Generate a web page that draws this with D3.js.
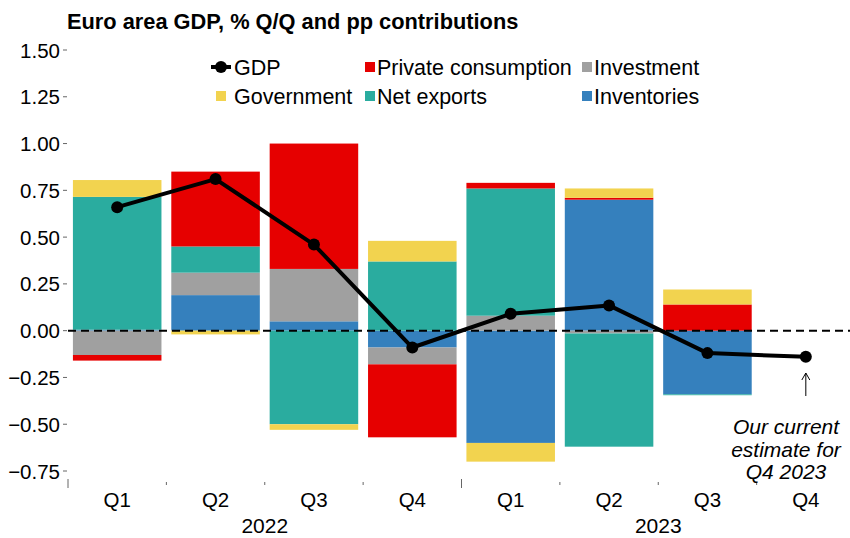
<!DOCTYPE html>
<html>
<head>
<meta charset="utf-8">
<script src="https://cdn.jsdelivr.net/npm/d3@7"></script>
<style>
  body { margin: 0; background: #fff; }
  text { font-family: "Liberation Sans", Arial, sans-serif; fill: #000; }
</style>
</head>
<body>
<div id="chart"></div>
<script>
// quarters and years
var quarters = ["Q1", "Q2", "Q3", "Q4", "Q1", "Q2", "Q3", "Q4"];
var years = ["2022", "2023"];

// contributions, pp (Q4 2023 has no breakdown)
var inventories = [0.005, 0.19, 0.05, -0.09, -0.60, 0.70, -0.34, 0];
var investment = [-0.13, 0.12, 0.28, -0.09, 0.08, -0.015, 0, 0];
var netExports = [0.71, 0.14, -0.50, 0.37, 0.68, -0.605, -0.005, 0];
var privateConsumption = [-0.03, 0.40, 0.67, -0.39, 0.03, 0.01, 0.14, 0];
var government = [0.09, -0.02, -0.03, 0.11, -0.10, 0.05, 0.08, 0];
var gdp = [0.66, 0.81, 0.46, -0.09, 0.09, 0.135, -0.12, -0.14];

var yTicks = [-0.75, -0.5, -0.25, 0, 0.25, 0.5, 0.75, 1, 1.25, 1.5];

var width = 850, height = 538;
var svg = d3.select("#chart").append("svg")
	.attr("width", width)
	.attr("height", height);

var keys = ["Inventories", "Investment", "Net exports", "Private consumption", "Government"];
var colors = {
	"Inventories": "#3580bd",
	"Investment": "#a0a0a0",
	"Net exports": "#2aac9f",
	"Private consumption": "#e60000",
	"Government": "#f2d34f"
};
var series = [inventories, investment, netExports, privateConsumption, government];

var rows = quarters.map(function(q, i) {
	var r = { i: i };
	keys.forEach(function(k, j) { r[k] = series[j][i]; });
	return r;
});

var x = d3.scaleBand().domain(d3.range(quarters.length)).range([68, 855])
	.paddingInner(0.1).paddingOuter(0.05);
var y = d3.scaleLinear().domain([-0.75, 1.5]).range([471, 50]);

// title
svg.append("text")
	.attr("x", 67).attr("y", 29)
	.style("font-size", "21.8px").style("font-weight", "bold")
	.text("Euro area GDP, % Q/Q and pp contributions");

// y axis labels + ticks
var yAxis = svg.append("g");
yTicks.forEach(function(t) {
	yAxis.append("text")
		.attr("x", 60).attr("y", y(t) + 7.5)
		.attr("text-anchor", "end")
		.style("font-size", "20.5px")
		.text(d3.format(".2f")(t));
	yAxis.append("line")
		.attr("x1", 63).attr("x2", 67)
		.attr("y1", y(t)).attr("y2", y(t))
		.attr("stroke", "#666").attr("stroke-width", 1);
});

// stacked bars
var stacked = d3.stack().keys(keys).offset(d3.stackOffsetDiverging)(rows);
svg.append("g").selectAll("g")
	.data(stacked)
	.join("g")
	.attr("fill", function(d) { return colors[d.key]; })
	.selectAll("rect")
	.data(function(d) { return d; })
	.join("rect")
	.attr("x", function(d) { return x(d.data.i); })
	.attr("width", x.bandwidth())
	.attr("y", function(d) { return y(Math.max(d[0], d[1])); })
	.attr("height", function(d) { return Math.abs(y(d[0]) - y(d[1])); });

// zero line
svg.append("line")
	.attr("x1", 68).attr("x2", width)
	.attr("y1", y(0)).attr("y2", y(0))
	.attr("stroke", "#000").attr("stroke-width", 2)
	.attr("stroke-dasharray", "8,5");

// GDP line
var line = d3.line()
	.x(function(d, i) { return x(i) + x.bandwidth() / 2; })
	.y(function(d) { return y(d); });
svg.append("path")
	.datum(gdp)
	.attr("d", line)
	.attr("fill", "none")
	.attr("stroke", "#000")
	.attr("stroke-width", 4)
	.attr("stroke-linejoin", "round");
svg.append("g").selectAll("circle")
	.data(gdp)
	.join("circle")
	.attr("cx", function(d, i) { return x(i) + x.bandwidth() / 2; })
	.attr("cy", function(d) { return y(d); })
	.attr("r", 6)
	.attr("fill", "#000");

// x axis ticks and labels
var step = x.step();
var x0 = x(0) - x.paddingOuter() * step;
d3.range(quarters.length).forEach(function(i) {
	var tx = x0 + i * step;
	var major = (i % 4 === 0);
	svg.append("line")
		.attr("x1", tx).attr("x2", tx)
		.attr("y1", major ? 479 : 482).attr("y2", major ? 488 : 485)
		.attr("stroke", "#666").attr("stroke-width", 1);
});
svg.append("g").selectAll("text")
	.data(quarters)
	.join("text")
	.attr("x", function(d, i) { return x(i) + x.bandwidth() / 2; })
	.attr("y", 507)
	.attr("text-anchor", "middle")
	.style("font-size", "20.5px")
	.text(function(d) { return d; });
svg.append("g").selectAll("text")
	.data(years)
	.join("text")
	.attr("x", function(d, i) { return x0 + (i * 4 + 2) * step; })
	.attr("y", 533)
	.attr("text-anchor", "middle")
	.style("font-size", "21px")
	.text(function(d) { return d; });

// annotation
var ax = x(7) + x.bandwidth() / 2;
svg.append("line")
	.attr("x1", ax).attr("x2", ax)
	.attr("y1", 396).attr("y2", 373)
	.attr("stroke", "#000").attr("stroke-width", 1);
svg.append("path")
	.attr("d", "M" + (ax - 4) + ",380 L" + ax + ",373 L" + (ax + 4) + ",380")
	.attr("fill", "none").attr("stroke", "#000").attr("stroke-width", 1);
["Our current", "estimate for", "Q4 2023"].forEach(function(t, i) {
	svg.append("text")
		.attr("x", 786).attr("y", 434 + i * 22.5)
		.attr("text-anchor", "middle")
		.style("font-size", "21px").style("font-style", "italic")
		.text(t);
});

// legend
var legend = svg.append("g");
var gl = legend.append("g");
gl.append("line").attr("x1", 211).attr("x2", 231).attr("y1", 67).attr("y2", 67)
	.attr("stroke", "#000").attr("stroke-width", 4);
gl.append("circle").attr("cx", 221).attr("cy", 67).attr("r", 6).attr("fill", "#000");
gl.append("text").attr("x", 234).attr("y", 75).style("font-size", "21.5px").text("GDP");

var legendItems = [
	{ key: "Private consumption", x: 365, y: 67 },
	{ key: "Investment", x: 582, y: 67 },
	{ key: "Government", x: 216, y: 96, tx: 234 },
	{ key: "Net exports", x: 365, y: 96 },
	{ key: "Inventories", x: 582, y: 96 }
];
legendItems.forEach(function(d) {
	legend.append("rect")
		.attr("x", d.x).attr("y", d.y - 5)
		.attr("width", 10).attr("height", 10)
		.attr("fill", colors[d.key]);
	legend.append("text")
		.attr("x", d.tx || d.x + 12).attr("y", d.y + 8)
		.style("font-size", "21.5px")
		.text(d.key);
});
</script>
</body>
</html>
